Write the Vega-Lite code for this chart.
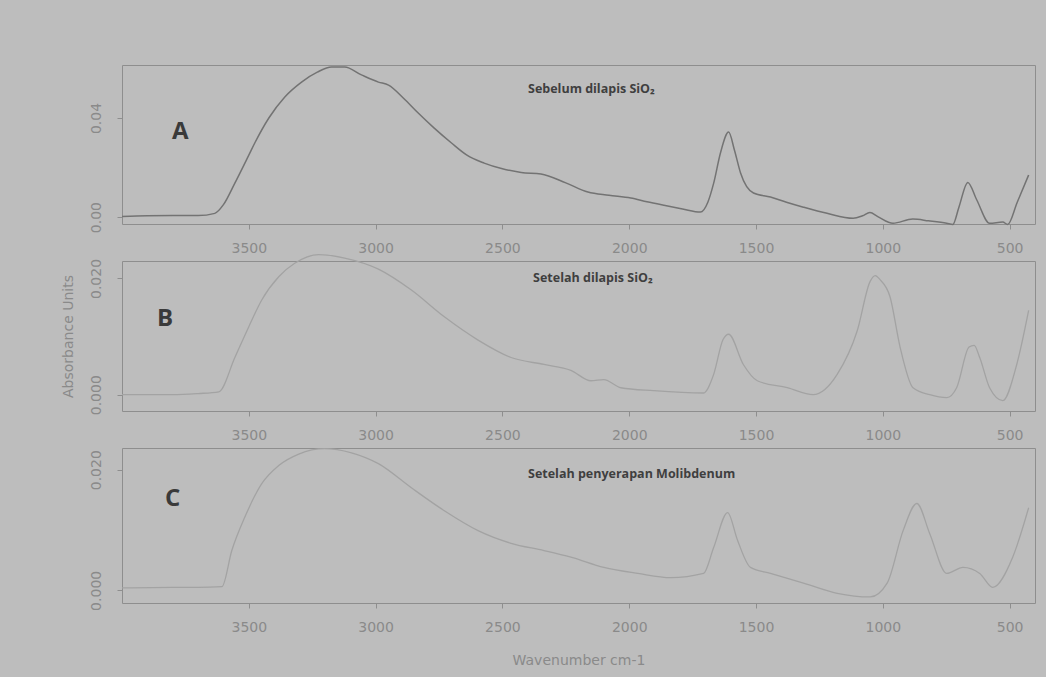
{
  "$schema": "https://vega.github.io/schema/vega-lite/v6.json",
  "background": "#bdbdbd",
  "padding": {"left": 60, "top": 63, "right": 11, "bottom": 15},
  "spacing": 37,
  "bounds": "flush",
  "datasets": {
    "spectra": [
      {"sample":"A","wavenumber":4000,"absorbance":0.0002},
      {"sample":"A","wavenumber":3900,"absorbance":0.0005},
      {"sample":"A","wavenumber":3800,"absorbance":0.0006},
      {"sample":"A","wavenumber":3700,"absorbance":0.0006},
      {"sample":"A","wavenumber":3634,"absorbance":0.0015},
      {"sample":"A","wavenumber":3600,"absorbance":0.005},
      {"sample":"A","wavenumber":3555,"absorbance":0.0137},
      {"sample":"A","wavenumber":3500,"absorbance":0.025},
      {"sample":"A","wavenumber":3476,"absorbance":0.030},
      {"sample":"A","wavenumber":3421,"absorbance":0.040},
      {"sample":"A","wavenumber":3358,"absorbance":0.0485},
      {"sample":"A","wavenumber":3292,"absorbance":0.0545},
      {"sample":"A","wavenumber":3230,"absorbance":0.0585},
      {"sample":"A","wavenumber":3174,"absorbance":0.0606},
      {"sample":"A","wavenumber":3122,"absorbance":0.0606},
      {"sample":"A","wavenumber":3056,"absorbance":0.0574},
      {"sample":"A","wavenumber":2989,"absorbance":0.0545},
      {"sample":"A","wavenumber":2949,"absorbance":0.0533},
      {"sample":"A","wavenumber":2890,"absorbance":0.048},
      {"sample":"A","wavenumber":2832,"absorbance":0.042},
      {"sample":"A","wavenumber":2770,"absorbance":0.036},
      {"sample":"A","wavenumber":2702,"absorbance":0.030},
      {"sample":"A","wavenumber":2640,"absorbance":0.025},
      {"sample":"A","wavenumber":2572,"absorbance":0.0218},
      {"sample":"A","wavenumber":2500,"absorbance":0.0195},
      {"sample":"A","wavenumber":2426,"absorbance":0.018},
      {"sample":"A","wavenumber":2348,"absorbance":0.0174},
      {"sample":"A","wavenumber":2250,"absorbance":0.0138},
      {"sample":"A","wavenumber":2163,"absorbance":0.0101},
      {"sample":"A","wavenumber":2080,"absorbance":0.0088},
      {"sample":"A","wavenumber":1994,"absorbance":0.0077},
      {"sample":"A","wavenumber":1930,"absorbance":0.0062},
      {"sample":"A","wavenumber":1864,"absorbance":0.0048},
      {"sample":"A","wavenumber":1790,"absorbance":0.0033},
      {"sample":"A","wavenumber":1719,"absorbance":0.002},
      {"sample":"A","wavenumber":1690,"absorbance":0.006},
      {"sample":"A","wavenumber":1667,"absorbance":0.0137},
      {"sample":"A","wavenumber":1640,"absorbance":0.026},
      {"sample":"A","wavenumber":1608,"absorbance":0.0343},
      {"sample":"A","wavenumber":1585,"absorbance":0.027},
      {"sample":"A","wavenumber":1561,"absorbance":0.0178},
      {"sample":"A","wavenumber":1510,"absorbance":0.0097},
      {"sample":"A","wavenumber":1443,"absorbance":0.0081},
      {"sample":"A","wavenumber":1380,"absorbance":0.006},
      {"sample":"A","wavenumber":1313,"absorbance":0.004},
      {"sample":"A","wavenumber":1220,"absorbance":0.0015},
      {"sample":"A","wavenumber":1117,"absorbance":-0.0005},
      {"sample":"A","wavenumber":1080,"absorbance":0.0005},
      {"sample":"A","wavenumber":1051,"absorbance":0.0018},
      {"sample":"A","wavenumber":1020,"absorbance":0.0002},
      {"sample":"A","wavenumber":960,"absorbance":-0.0025},
      {"sample":"A","wavenumber":882,"absorbance":-0.0008},
      {"sample":"A","wavenumber":820,"absorbance":-0.0015},
      {"sample":"A","wavenumber":748,"absorbance":-0.0025},
      {"sample":"A","wavenumber":724,"absorbance":-0.003},
      {"sample":"A","wavenumber":700,"absorbance":0.004},
      {"sample":"A","wavenumber":665,"absorbance":0.014},
      {"sample":"A","wavenumber":630,"absorbance":0.007},
      {"sample":"A","wavenumber":579,"absorbance":-0.0025},
      {"sample":"A","wavenumber":527,"absorbance":-0.002},
      {"sample":"A","wavenumber":508,"absorbance":-0.003},
      {"sample":"A","wavenumber":470,"absorbance":0.006},
      {"sample":"A","wavenumber":425,"absorbance":0.017},
      {"sample":"B","wavenumber":4000,"absorbance":0.0},
      {"sample":"B","wavenumber":3800,"absorbance":0.0},
      {"sample":"B","wavenumber":3700,"absorbance":0.0002},
      {"sample":"B","wavenumber":3618,"absorbance":0.0005},
      {"sample":"B","wavenumber":3555,"absorbance":0.0064},
      {"sample":"B","wavenumber":3500,"absorbance":0.0117},
      {"sample":"B","wavenumber":3449,"absorbance":0.0163},
      {"sample":"B","wavenumber":3382,"absorbance":0.0203},
      {"sample":"B","wavenumber":3319,"absorbance":0.0226},
      {"sample":"B","wavenumber":3225,"absorbance":0.0241},
      {"sample":"B","wavenumber":3122,"absorbance":0.0235},
      {"sample":"B","wavenumber":2989,"absorbance":0.0216},
      {"sample":"B","wavenumber":2859,"absorbance":0.018},
      {"sample":"B","wavenumber":2729,"absorbance":0.0134},
      {"sample":"B","wavenumber":2596,"absorbance":0.0094},
      {"sample":"B","wavenumber":2466,"absorbance":0.0064},
      {"sample":"B","wavenumber":2336,"absorbance":0.0052},
      {"sample":"B","wavenumber":2230,"absorbance":0.0042},
      {"sample":"B","wavenumber":2151,"absorbance":0.0024},
      {"sample":"B","wavenumber":2100,"absorbance":0.0026},
      {"sample":"B","wavenumber":2033,"absorbance":0.0012},
      {"sample":"B","wavenumber":1904,"absorbance":0.0007},
      {"sample":"B","wavenumber":1707,"absorbance":0.0003},
      {"sample":"B","wavenumber":1667,"absorbance":0.0035},
      {"sample":"B","wavenumber":1630,"absorbance":0.0095},
      {"sample":"B","wavenumber":1608,"absorbance":0.0104},
      {"sample":"B","wavenumber":1550,"absorbance":0.0052},
      {"sample":"B","wavenumber":1495,"absorbance":0.0024},
      {"sample":"B","wavenumber":1377,"absorbance":0.0012},
      {"sample":"B","wavenumber":1275,"absorbance":0.0},
      {"sample":"B","wavenumber":1180,"absorbance":0.0035},
      {"sample":"B","wavenumber":1101,"absorbance":0.011},
      {"sample":"B","wavenumber":1050,"absorbance":0.0195},
      {"sample":"B","wavenumber":1030,"absorbance":0.0205},
      {"sample":"B","wavenumber":1011,"absorbance":0.0198},
      {"sample":"B","wavenumber":972,"absorbance":0.0169},
      {"sample":"B","wavenumber":932,"absorbance":0.0082},
      {"sample":"B","wavenumber":881,"absorbance":0.0012},
      {"sample":"B","wavenumber":815,"absorbance":0.0},
      {"sample":"B","wavenumber":748,"absorbance":-0.0005},
      {"sample":"B","wavenumber":709,"absorbance":0.0012},
      {"sample":"B","wavenumber":660,"absorbance":0.0082},
      {"sample":"B","wavenumber":640,"absorbance":0.0085},
      {"sample":"B","wavenumber":618,"absorbance":0.0064},
      {"sample":"B","wavenumber":579,"absorbance":0.0012},
      {"sample":"B","wavenumber":527,"absorbance":-0.001},
      {"sample":"B","wavenumber":472,"absorbance":0.0052},
      {"sample":"B","wavenumber":425,"absorbance":0.0145},
      {"sample":"C","wavenumber":4000,"absorbance":0.0004},
      {"sample":"C","wavenumber":3800,"absorbance":0.0005},
      {"sample":"C","wavenumber":3700,"absorbance":0.0005},
      {"sample":"C","wavenumber":3606,"absorbance":0.0006},
      {"sample":"C","wavenumber":3567,"absorbance":0.0066},
      {"sample":"C","wavenumber":3516,"absorbance":0.0121},
      {"sample":"C","wavenumber":3449,"absorbance":0.0177},
      {"sample":"C","wavenumber":3382,"absorbance":0.0207},
      {"sample":"C","wavenumber":3303,"absorbance":0.0226},
      {"sample":"C","wavenumber":3201,"absorbance":0.0235},
      {"sample":"C","wavenumber":3095,"absorbance":0.0228},
      {"sample":"C","wavenumber":2989,"absorbance":0.021},
      {"sample":"C","wavenumber":2859,"absorbance":0.017},
      {"sample":"C","wavenumber":2729,"absorbance":0.0132},
      {"sample":"C","wavenumber":2596,"absorbance":0.0099},
      {"sample":"C","wavenumber":2466,"absorbance":0.0078},
      {"sample":"C","wavenumber":2336,"absorbance":0.0066},
      {"sample":"C","wavenumber":2230,"absorbance":0.0055},
      {"sample":"C","wavenumber":2100,"absorbance":0.0038},
      {"sample":"C","wavenumber":1966,"absorbance":0.0028},
      {"sample":"C","wavenumber":1837,"absorbance":0.0021},
      {"sample":"C","wavenumber":1707,"absorbance":0.0028},
      {"sample":"C","wavenumber":1667,"absorbance":0.0071},
      {"sample":"C","wavenumber":1612,"absorbance":0.0129},
      {"sample":"C","wavenumber":1573,"absorbance":0.0083},
      {"sample":"C","wavenumber":1522,"absorbance":0.0038},
      {"sample":"C","wavenumber":1443,"absorbance":0.0028},
      {"sample":"C","wavenumber":1313,"absorbance":0.0012},
      {"sample":"C","wavenumber":1180,"absorbance":-0.0005},
      {"sample":"C","wavenumber":1050,"absorbance":-0.0011},
      {"sample":"C","wavenumber":983,"absorbance":0.0012},
      {"sample":"C","wavenumber":920,"absorbance":0.0099},
      {"sample":"C","wavenumber":866,"absorbance":0.0144},
      {"sample":"C","wavenumber":815,"absorbance":0.0094},
      {"sample":"C","wavenumber":748,"absorbance":0.0028},
      {"sample":"C","wavenumber":684,"absorbance":0.0038},
      {"sample":"C","wavenumber":618,"absorbance":0.0028},
      {"sample":"C","wavenumber":567,"absorbance":0.0005},
      {"sample":"C","wavenumber":488,"absorbance":0.0055},
      {"sample":"C","wavenumber":425,"absorbance":0.0137}
    ],
    "labels": [
      {"sample":"A","kind":"letter","wavenumber":3803,"absorbance":0.0343,"label":"A"},
      {"sample":"B","kind":"letter","wavenumber":3862,"absorbance":0.013,"label":"B"},
      {"sample":"C","kind":"letter","wavenumber":3830,"absorbance":0.0152,"label":"C"},
      {"sample":"A","kind":"caption","wavenumber":2399,"absorbance":0.0517,"label":"Sebelum dilapis SiO₂"},
      {"sample":"B","kind":"caption","wavenumber":2379,"absorbance":0.020,"label":"Setelah dilapis SiO₂"},
      {"sample":"C","kind":"caption","wavenumber":2399,"absorbance":0.0193,"label":"Setelah penyerapan Molibdenum"}
    ]
  },
  "vconcat": [
    {
      "width": 913, "height": 159,
      "layer": [
        {
          "data": {"name": "spectra"},
          "transform": [{"filter": "datum.sample === 'A'"}],
          "mark": {"type": "line", "color": "#737373", "strokeWidth": 1.5, "interpolate": "monotone"},
          "encoding": {
            "x": {"field": "wavenumber", "type": "quantitative", "title": null,
                  "scale": {"domain": [400, 4000], "reverse": true, "nice": false, "zero": false},
                  "axis": {"values": [3500, 3000, 2500, 2000, 1500, 1000, 500], "format": "d"}},
            "y": {"field": "absorbance", "type": "quantitative", "title": "Absorbance Units",
                  "scale": {"domain": [-0.0028, 0.0614], "nice": false, "zero": false},
                  "axis": {"values": [0, 0.04], "format": ".2f", "titleOpacity": 0}}
          }
        },
        {
          "data": {"name": "labels"},
          "transform": [{"filter": "datum.sample === 'A' && datum.kind === 'letter'"}],
          "mark": {"type": "text", "align": "left", "baseline": "middle", "font": "Open Sans", "fontWeight": "bold", "fontSize": 24, "color": "#3a3a3a"},
          "encoding": {
            "x": {"field": "wavenumber", "type": "quantitative", "title": null},
            "y": {"field": "absorbance", "type": "quantitative", "title": "Absorbance Units"},
            "text": {"field": "label"}
          }
        },
        {
          "data": {"name": "labels"},
          "transform": [{"filter": "datum.sample === 'A' && datum.kind === 'caption'"}],
          "mark": {"type": "text", "align": "left", "baseline": "middle", "font": "Open Sans", "fontWeight": "bold", "fontSize": 12.5, "color": "#3f3f3f"},
          "encoding": {
            "x": {"field": "wavenumber", "type": "quantitative", "title": null},
            "y": {"field": "absorbance", "type": "quantitative", "title": "Absorbance Units"},
            "text": {"field": "label"}
          }
        }
      ]
    },
    {
      "width": 913, "height": 150,
      "layer": [
        {
          "data": {"name": "spectra"},
          "transform": [{"filter": "datum.sample === 'B'"}],
          "mark": {"type": "line", "color": "#a3a3a3", "strokeWidth": 1.3, "interpolate": "monotone"},
          "encoding": {
            "x": {"field": "wavenumber", "type": "quantitative", "title": null,
                  "scale": {"domain": [400, 4000], "reverse": true, "nice": false, "zero": false},
                  "axis": {"values": [3500, 3000, 2500, 2000, 1500, 1000, 500], "format": "d"}},
            "y": {"field": "absorbance", "type": "quantitative", "title": "Absorbance Units",
                  "scale": {"domain": [-0.0028, 0.0230], "nice": false, "zero": false},
                  "axis": {"values": [0, 0.02], "format": ".3f"}}
          }
        },
        {
          "data": {"name": "labels"},
          "transform": [{"filter": "datum.sample === 'B' && datum.kind === 'letter'"}],
          "mark": {"type": "text", "align": "left", "baseline": "middle", "font": "Open Sans", "fontWeight": "bold", "fontSize": 24, "color": "#3a3a3a"},
          "encoding": {
            "x": {"field": "wavenumber", "type": "quantitative", "title": null},
            "y": {"field": "absorbance", "type": "quantitative", "title": "Absorbance Units"},
            "text": {"field": "label"}
          }
        },
        {
          "data": {"name": "labels"},
          "transform": [{"filter": "datum.sample === 'B' && datum.kind === 'caption'"}],
          "mark": {"type": "text", "align": "left", "baseline": "middle", "font": "Open Sans", "fontWeight": "bold", "fontSize": 12.5, "color": "#3f3f3f"},
          "encoding": {
            "x": {"field": "wavenumber", "type": "quantitative", "title": null},
            "y": {"field": "absorbance", "type": "quantitative", "title": "Absorbance Units"},
            "text": {"field": "label"}
          }
        }
      ]
    },
    {
      "width": 913, "height": 155,
      "layer": [
        {
          "data": {"name": "spectra"},
          "transform": [{"filter": "datum.sample === 'C'"}],
          "mark": {"type": "line", "color": "#a3a3a3", "strokeWidth": 1.3, "interpolate": "monotone"},
          "encoding": {
            "x": {"field": "wavenumber", "type": "quantitative", "title": "Wavenumber cm-1",
                  "scale": {"domain": [400, 4000], "reverse": true, "nice": false, "zero": false},
                  "axis": {"values": [3500, 3000, 2500, 2000, 1500, 1000, 500], "format": "d"}},
            "y": {"field": "absorbance", "type": "quantitative", "title": "Absorbance Units",
                  "scale": {"domain": [-0.0021, 0.0236], "nice": false, "zero": false},
                  "axis": {"values": [0, 0.02], "format": ".3f", "titleOpacity": 0}}
          }
        },
        {
          "data": {"name": "labels"},
          "transform": [{"filter": "datum.sample === 'C' && datum.kind === 'letter'"}],
          "mark": {"type": "text", "align": "left", "baseline": "middle", "font": "Open Sans", "fontWeight": "bold", "fontSize": 24, "color": "#3a3a3a"},
          "encoding": {
            "x": {"field": "wavenumber", "type": "quantitative", "title": "Wavenumber cm-1"},
            "y": {"field": "absorbance", "type": "quantitative", "title": "Absorbance Units"},
            "text": {"field": "label"}
          }
        },
        {
          "data": {"name": "labels"},
          "transform": [{"filter": "datum.sample === 'C' && datum.kind === 'caption'"}],
          "mark": {"type": "text", "align": "left", "baseline": "middle", "font": "Open Sans", "fontWeight": "bold", "fontSize": 12.5, "color": "#3f3f3f"},
          "encoding": {
            "x": {"field": "wavenumber", "type": "quantitative", "title": "Wavenumber cm-1"},
            "y": {"field": "absorbance", "type": "quantitative", "title": "Absorbance Units"},
            "text": {"field": "label"}
          }
        }
      ]
    }
  ],
  "config": {
    "view": {"stroke": "#8e8e8e", "strokeWidth": 1},
    "axis": {
      "domain": false, "grid": false,
      "labelFont": "DejaVu Sans", "labelFontSize": 14, "labelColor": "#8a8a8a",
      "titleFont": "DejaVu Sans", "titleFontSize": 14, "titleFontWeight": "normal", "titleColor": "#8a8a8a",
      "tickColor": "#8e8e8e", "tickSize": 5
    },
    "axisX": {"labelPadding": 12, "titlePadding": 19, "labelFlush": false, "labelOverlap": false},
    "axisY": {"labelAngle": -90, "labelPadding": 14, "titlePadding": 14, "labelOverlap": false}
  }
}
